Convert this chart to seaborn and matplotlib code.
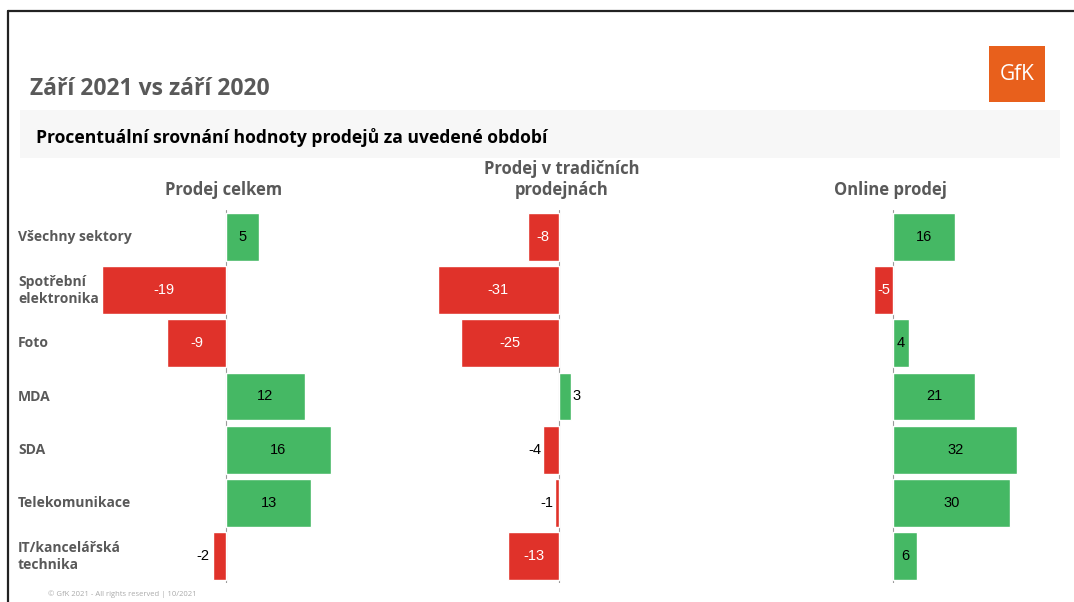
import pandas as pd
import matplotlib.pyplot as plt
import seaborn as sns
from matplotlib.patches import Rectangle
from matplotlib.lines import Line2D

# 1 Data
sectors = [
    "Všechny sektory", "Spotřební\nelektronika", "Foto", "MDA", "SDA",
    "Telekomunikace", "IT/kancelářská\ntechnika",
]
total_sales = [5, -19, -9, 12, 16, 13, -2]
store_sales = [-8, -31, -25, 3, -4, -1, -13]
online_sales = [16, -5, 4, 21, 32, 30, 6]

panel_titles = ["Prodej celkem", "Prodej v tradičních\nprodejnách", "Online prodej"]

GREEN = "#45b864"
RED = "#e0322a"
GREY = "#595959"

W, H = 1074, 602


def px(x, y):
    return x / W, 1 - y / H


def ax_rect(left, width, top=210, bottom=583):
    return [left / W, 1 - bottom / H, width / W, (bottom - top) / H]


fig = plt.figure(figsize=(W / 100, H / 100), dpi=100)
fig.patch.set_facecolor("white")
sns.set_style("white")
plt.rcParams["font.family"] = ["Open Sans", "DejaVu Sans"]

# frame lines top and left
fig.add_artist(Line2D([8 / W, 1], [1 - 11 / H] * 2, color="#222222", lw=1.6))
fig.add_artist(Line2D([8 / W] * 2, [0, 1 - 11 / H], color="#222222", lw=1.6))

# faint band behind subtitle
fig.add_artist(Rectangle(px(20, 158), 1040 / W, 48 / H, color="#f7f7f7",
                         zorder=0, lw=0))

fig.text(*px(30, 95), "Září 2021 vs září 2020", fontsize=16.5, fontweight="bold",
         color=GREY, va="baseline")
fig.text(*px(36, 143), "Procentuální srovnání hodnoty prodejů za uvedené období",
         fontsize=12.6, fontweight="bold", color="black", va="baseline")

# GfK logo
fig.add_artist(Rectangle(px(989, 102), 56 / W, 56 / H, color="#e8601c", lw=0))
fig.text(*px(1017, 75), "GfK", fontsize=15, color="white", ha="center",
         va="center", family="Open Sans")

fig.text(*px(48, 596), "© GfK 2021 - All rights reserved | 10/2021", fontsize=5.5,
         color="#aaaaaa", va="baseline")

# 2 Panels: (values, left px, width px, xlim, outside labels, header x)
panels = [
    (total_sales, 95, 262, (-20, 20), {6}, 224),
    (store_sales, 434, 156, (-32, 8), {3, 4, 5}, 562),
    (online_sales, 870, 155, (-6, 34), set(), 890),
]

for i, (vals, left, width, xlim, outside, hx) in enumerate(panels):
    ax = fig.add_axes(ax_rect(left, width))
    df = pd.DataFrame({"sector": sectors, "value": vals})
    df["sign"] = ["pos" if v >= 0 else "neg" for v in vals]
    sns.barplot(data=df, x="value", y="sector", hue="sign",
                palette={"pos": GREEN, "neg": RED}, dodge=False, width=0.9,
                saturation=1, legend=False, orient="h", ax=ax)
    ax.set_xlim(*xlim)
    ax.axvline(0, color="#9a9a9a", lw=0.8, zorder=0)
    ax.set_xlabel("")
    ax.set_ylabel("")
    ax.set_xticks([])
    ax.set_yticks([])
    sns.despine(ax=ax, left=True, bottom=True)

    for j, v in enumerate(vals):
        if j in outside:
            off = 0.5 if v >= 0 else -0.5
            ax.text(v + off, j, str(v), ha="left" if v >= 0 else "right",
                    va="center", fontsize=10.5, color="black",
                    family="Liberation Sans")
        else:
            ax.text(v / 2, j, str(v), ha="center", va="center", fontsize=10.5,
                    color="white" if v < 0 else "black",
                    family="Liberation Sans")

    fig.text(*px(hx, 195), panel_titles[i], ha="center", va="baseline",
             fontsize=12, fontweight="bold", color=GREY, linespacing=1.2)

# category labels
for j, s in enumerate(sectors):
    y = 237 + j * 53.2
    fig.text(*px(18, y), s, ha="left", va="center", fontsize=10,
             fontweight="bold", color=GREY, linespacing=1.3)

fig.savefig("out.png", dpi=100)
